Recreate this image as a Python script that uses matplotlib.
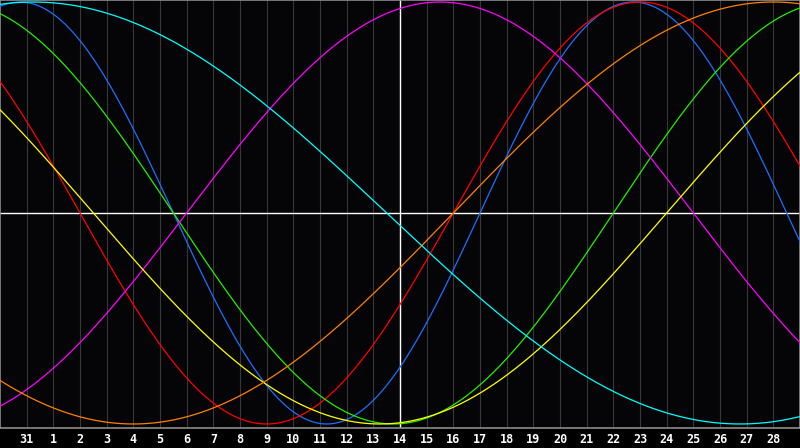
import numpy as np
import matplotlib
matplotlib.use("Agg")
import matplotlib.pyplot as plt

# Biorhythm chart data
day_labels = ['31'] + [str(d) for d in range(1, 29)]   # tick labels, positions 1..29
center_index = 15                                       # today's position (day 14)
days_since_birth = 29230                                # days lived at the centre day
periods = [23, 28, 33, 38, 43, 48, 53]                  # physical, emotional, intellectual, intuitive, aesthetic, awareness, spiritual
colors = ['#1e6eff', '#ff0000', '#22ee00', '#ff00ff', '#ffff00', '#ff8000', '#00ffff']
n_positions = 30

fig = plt.figure(figsize=(8, 4.48), dpi=100, facecolor='#000000')
ax = fig.add_axes([0, 20 / 448, 1, 428 / 448])
ax.set_facecolor('#050508')
ax.set_xlim(0, n_positions)
ax.set_ylim(-1.019, 1.0095)

# vertical day grid
for i in range(1, n_positions):
    ax.axvline(i, color='#383838', lw=0.8, zorder=1)

# centre lines
ax.axhline(0, color='white', lw=1.0, zorder=2)
ax.axvline(center_index, color='white', lw=1.0, zorder=2)

t = np.linspace(0, n_positions, 1201)
for p, c in zip(periods, colors):
    days = days_since_birth + (t - center_index)
    ax.plot(t, np.sin(2 * np.pi * days / p), color=c, lw=0.9, zorder=3)

ax.set_xticks([])
ax.set_yticks([])
for s in ax.spines.values():
    s.set_color('#8c8c8c')
    s.set_linewidth(1.2)

trans = matplotlib.transforms.blended_transform_factory(ax.transData, ax.transAxes)
for i, lab in enumerate(day_labels, start=1):
    ax.text(i, -11 / 428, lab, transform=trans, ha='center', va='center',
            color='white', fontsize=8.5, fontweight='bold', family='DejaVu Sans Mono',
            clip_on=False)

fig.savefig('out.png', dpi=100, facecolor='#000000')
